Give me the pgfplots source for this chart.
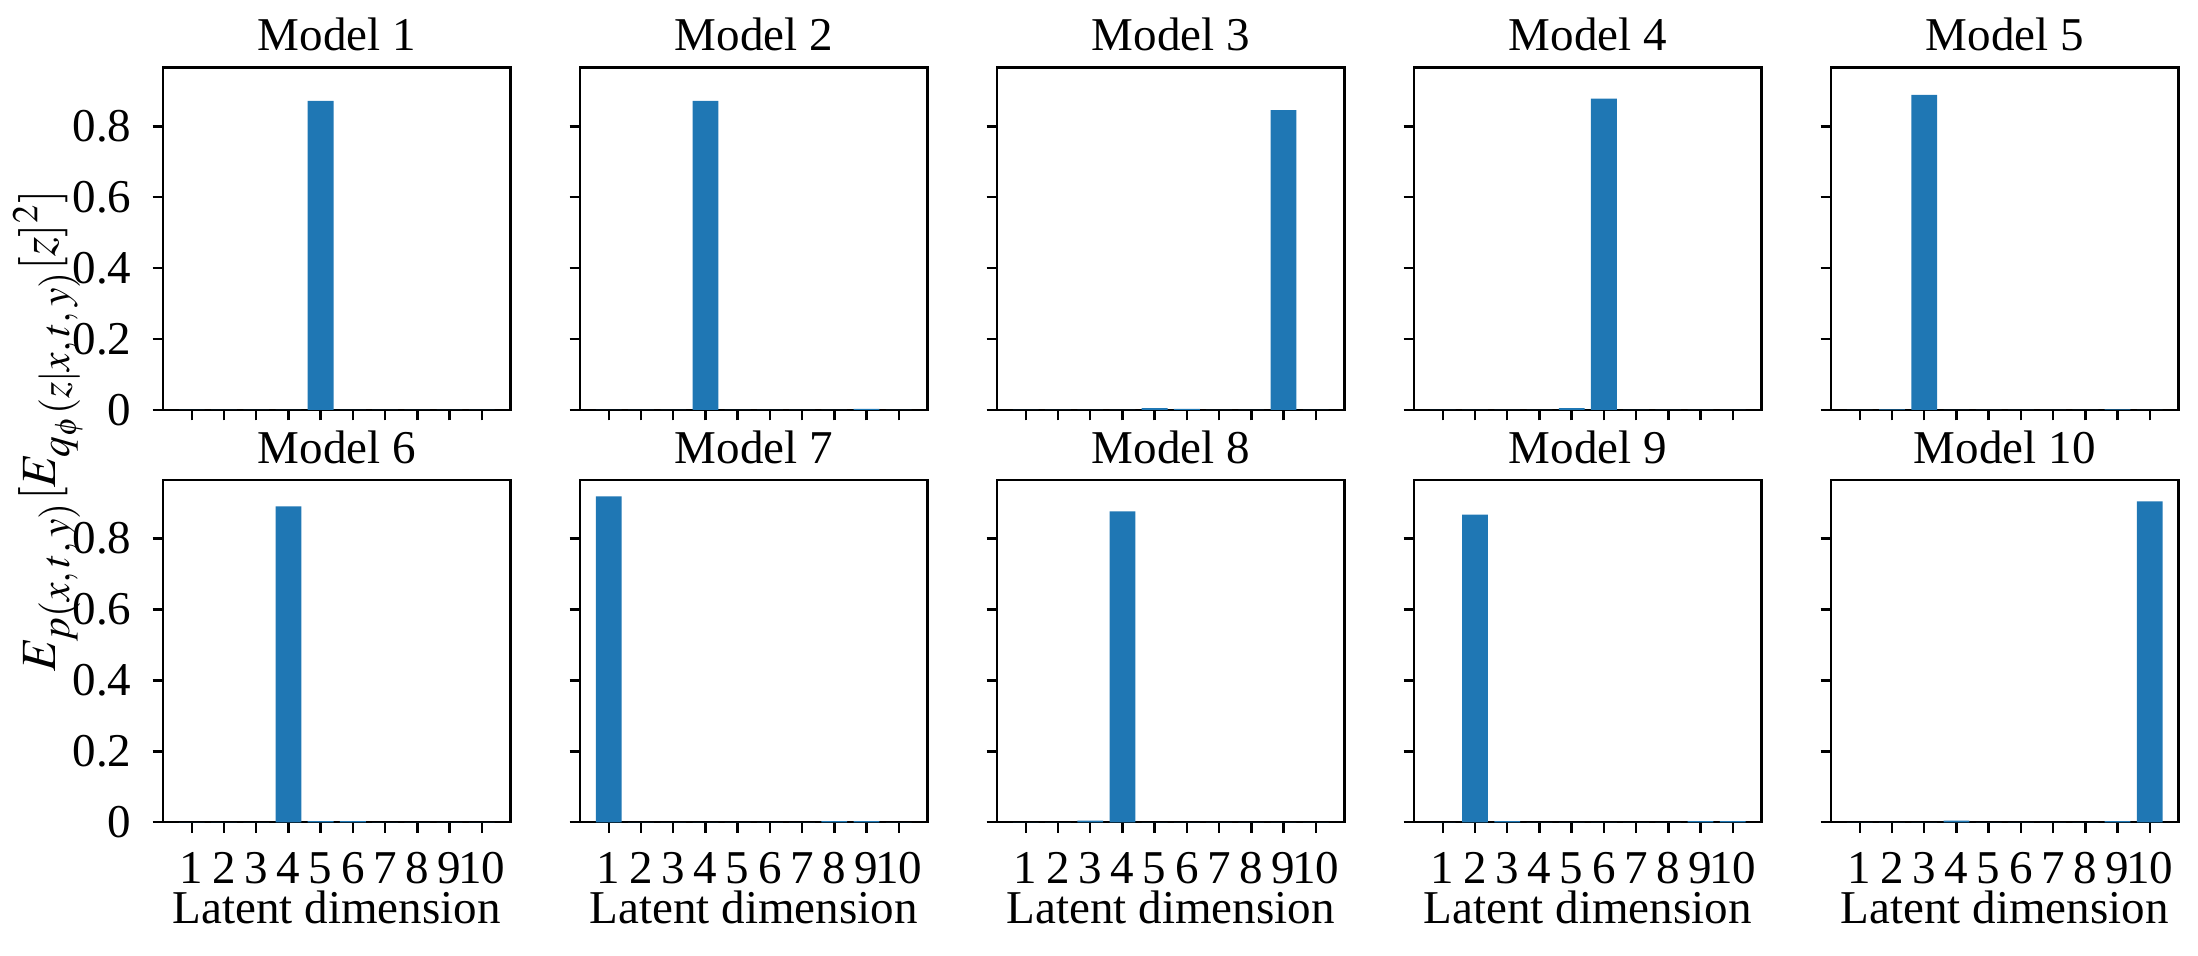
\documentclass[border=0pt]{standalone}
\usepackage{mathptmx}
\usepackage{fontspec}
\setmainfont{Liberation Serif}
\usepackage{pgfplots}
\usepackage{pgfplotstable}
\pgfplotsset{compat=1.18}
\definecolor{c0}{RGB}{31,119,180}

\pgfplotstableread{
dim m1    m2    m3    m4    m5    m6    m7    m8    m9    m10
1   0     0     0     0     0     0     0.919 0     0     0
2   0     0     0     0     0.002 0     0     0     0.868 0
3   0     0     0     0     0.889 0     0     0.005 0.003 0
4   0     0.872 0     0     0     0.891 0     0.877 0     0.005
5   0.872 0     0.005 0.005 0     0.003 0     0     0     0
6   0     0     0.003 0.878 0     0.003 0     0     0     0
7   0     0     0     0     0     0     0     0     0     0
8   0     0     0     0     0     0     0.003 0     0     0
9   0     0.003 0.846 0     0.002 0     0.003 0     0.003 0.003
10  0     0     0     0     0     0     0     0     0.003 0.905
}\data

\pgfplotsset{
  panel/.style={
    scale only axis, width=86.875pt, height=85.625pt,
    anchor=south west,
    xmin=0.11, xmax=10.89, ymin=0, ymax=0.966,
    xtick={1,2,3,4,5,6,7,8,9,10},
    ytick={0,0.2,0.4,0.6,0.8},
    tick align=outside, xtick pos=left, ytick pos=left,
    major tick length=2.57pt,
    tick style={black, line width=0.59pt},
    axis line style={black, line width=0.59pt},
    font=\fontsize{11.76}{14}\selectfont,
    /pgf/number format/assume math mode=true,
    every axis title/.style={at={(axis description cs:0.5,1)}, anchor=base, yshift=4.2pt, inner sep=0pt},
    xticklabel style={anchor=base, yshift=-12.75pt, inner sep=0pt},
    yticklabel style={anchor=east, xshift=-5.15pt, inner sep=0pt},
    xlabel style={at={(axis description cs:0.5,0)}, anchor=base, yshift=-25.4pt, inner sep=0pt},
  },
  toprow/.style={xticklabels={}},
  botrow/.style={xlabel={Latent dimension}},
  inner/.style={yticklabels={}},
  bars/.style={ybar, bar width=0.8, fill=c0, draw=none},
}
\newcommand{\sub}[1]{\raise1.2pt\hbox{\fontsize{10.4}{12}\selectfont$#1$}}

\begin{document}
\begin{tikzpicture}
\useasboundingbox (0,0) rectangle (549.5pt,238.75pt);
% top row
\begin{axis}[panel, toprow, at={(40.75pt,136.25pt)}, title={Model 1}]
\addplot[bars] table[x=dim,y=m1]{\data};
\end{axis}
\begin{axis}[panel, toprow, inner, at={(145pt,136.25pt)}, title={Model 2}]
\addplot[bars] table[x=dim,y=m2]{\data};
\end{axis}
\begin{axis}[panel, toprow, inner, at={(249.25pt,136.25pt)}, title={Model 3}]
\addplot[bars] table[x=dim,y=m3]{\data};
\end{axis}
\begin{axis}[panel, toprow, inner, at={(353.5pt,136.25pt)}, title={Model 4}]
\addplot[bars] table[x=dim,y=m4]{\data};
\end{axis}
\begin{axis}[panel, toprow, inner, at={(457.75pt,136.25pt)}, title={Model 5}]
\addplot[bars] table[x=dim,y=m5]{\data};
\end{axis}
% bottom row
\begin{axis}[panel, botrow, at={(40.75pt,33.175pt)}, title={Model 6}]
\addplot[bars] table[x=dim,y=m6]{\data};
\end{axis}
\begin{axis}[panel, botrow, inner, at={(145pt,33.175pt)}, title={Model 7}]
\addplot[bars] table[x=dim,y=m7]{\data};
\end{axis}
\begin{axis}[panel, botrow, inner, at={(249.25pt,33.175pt)}, title={Model 8}]
\addplot[bars] table[x=dim,y=m8]{\data};
\end{axis}
\begin{axis}[panel, botrow, inner, at={(353.5pt,33.175pt)}, title={Model 9}]
\addplot[bars] table[x=dim,y=m9]{\data};
\end{axis}
\begin{axis}[panel, botrow, inner, at={(457.75pt,33.175pt)}, title={Model 10}]
\addplot[bars] table[x=dim,y=m10]{\data};
\end{axis}
\node[rotate=90, font=\fontsize{12.3}{14}\selectfont, inner sep=0pt] at (12pt,131pt)
  {$E_{\sub{p(x,t,y)}}[E_{\sub{q_\phi(z|x,t,y)}}[z]^2]$};
\end{tikzpicture}
\end{document}
